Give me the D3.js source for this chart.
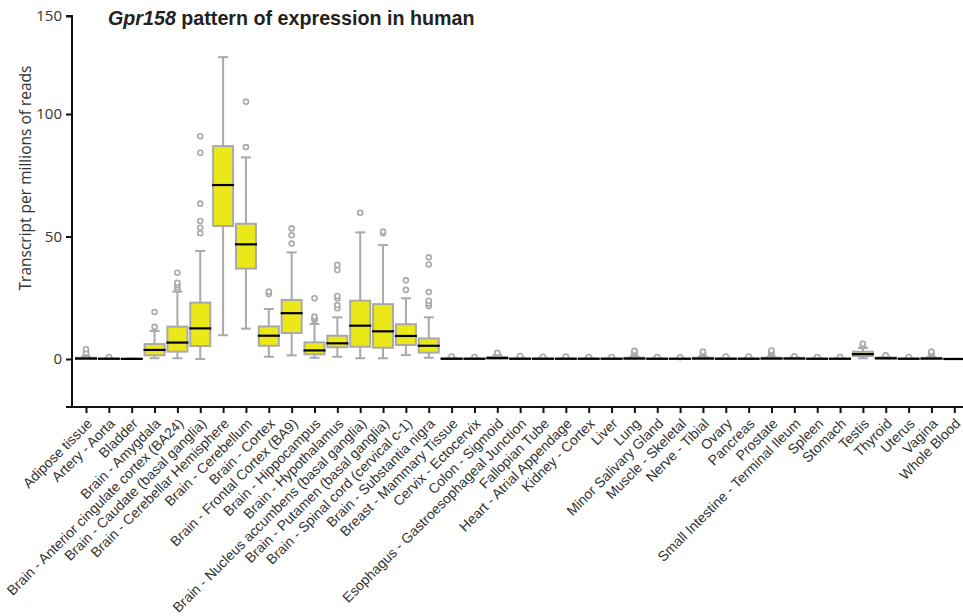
<!DOCTYPE html>
<html>
<head>
<meta charset="utf-8">
<script src="https://cdn.jsdelivr.net/npm/d3@7"></script>
<style>
  html, body { margin: 0; padding: 0; background: #fff; }
  svg { display: block; }
</style>
</head>
<body>
<svg id="chart" width="963" height="616"></svg>
<script>
// ---------- DATA ----------
const categories = [
  "Adipose tissue", "Artery - Aorta", "Bladder", "Brain - Amygdala",
  "Brain - Anterior cingulate cortex (BA24)", "Brain - Caudate (basal ganglia)",
  "Brain - Cerebellar Hemisphere", "Brain - Cerebellum", "Brain - Cortex",
  "Brain - Frontal Cortex (BA9)", "Brain - Hippocampus", "Brain - Hypothalamus",
  "Brain - Nucleus accumbens (basal ganglia)", "Brain - Putamen (basal ganglia)",
  "Brain - Spinal cord (cervical c-1)", "Brain - Substantia nigra",
  "Breast - Mammary Tissue", "Cervix - Ectocervix", "Colon - Sigmoid",
  "Esophagus - Gastroesophageal Junction", "Fallopian Tube",
  "Heart - Atrial Appendage", "Kidney - Cortex", "Liver", "Lung",
  "Minor Salivary Gland", "Muscle - Skeletal", "Nerve - Tibial", "Ovary",
  "Pancreas", "Prostate", "Small Intestine - Terminal Ileum", "Spleen",
  "Stomach", "Testis", "Thyroid", "Uterus", "Vagina", "Whole Blood"
];
const whiskerLow  = [0, 0, 0, 0.3, 0.3, 0, 9.7, 12.4, 0.9, 1.5, 0.5, 0.9, 0.3, 0.3, 1.6, 0.5, 0, 0, 0, 0, 0, 0, 0, 0, 0, 0, 0, 0, 0, 0, 0, 0, 0, 0, 0.3, 0, 0, 0, 0];
const q1          = [0, 0, 0, 1.5, 3.0, 5.3, 54.3, 36.9, 5.4, 10.6, 1.9, 4.8, 5.0, 4.6, 5.7, 2.6, 0, 0, 0.1, 0, 0, 0, 0, 0, 0, 0, 0, 0, 0, 0, 0, 0, 0, 0, 1.2, 0.1, 0, 0, 0];
const median      = [0.2, 0.1, 0.05, 3.7, 6.7, 12.5, 71.0, 46.8, 9.5, 18.7, 3.5, 6.4, 13.6, 11.3, 9.4, 5.4, 0.1, 0.1, 0.4, 0.1, 0.1, 0.1, 0.1, 0.1, 0.2, 0.1, 0.1, 0.2, 0.1, 0.1, 0.2, 0.2, 0.1, 0.1, 2.0, 0.3, 0.1, 0.2, 0];
const q3          = [0.5, 0.2, 0.1, 6.1, 13.2, 23.0, 86.9, 55.2, 13.3, 24.1, 6.8, 9.5, 23.8, 22.4, 14.2, 8.4, 0.3, 0.2, 0.8, 0.3, 0.2, 0.2, 0.2, 0.2, 0.5, 0.2, 0.2, 0.5, 0.3, 0.3, 0.5, 0.4, 0.2, 0.2, 3.0, 0.6, 0.2, 0.4, 0.05];
const whiskerHigh = [1, 0.4, 0.2, 11.4, 27.5, 44.1, 129.0, 82.3, 20.4, 43.5, 14.3, 17.0, 51.7, 46.5, 24.8, 17.0, 0.6, 0.4, 1.5, 0.6, 0.5, 0.5, 0.5, 0.5, 1, 0.5, 0.5, 1, 0.6, 0.6, 1, 0.7, 0.5, 0.5, 4.5, 1, 0.5, 0.8, 0.1];
const outliers = [
  [1.5, 2, 2.5, 4], [0.8], [], [13.1, 19.2],
  [28.5, 29.3, 30.2, 31.1, 35.2], [51.3, 53.6, 56.3, 63.4, 84.2, 90.9],
  [], [86.5, 106.3], [26.5, 27.5], [47.1, 50.5, 53.3],
  [15.9, 16.5, 17.3, 24.8], [20.7, 22, 24.8, 25.7, 36.3, 38.4],
  [59.7], [51.3, 52.0], [28.2, 32.1], [21.6, 22.7, 23.8, 27.3, 38.6, 41.5],
  [1], [0.8], [2, 2.5], [1.2], [0.9], [1], [0.8], [0.8],
  [1.5, 2, 2.5, 3, 3.3], [0.8], [0.7], [1.5, 2, 2.5, 3], [1], [1],
  [1.5, 2, 2.5, 3, 3.5], [1.1], [0.8], [0.8], [5.2, 5.8, 6.2], [1.5], [0.8],
  [1.3, 2, 2.5, 3], []
];
const yTicks = [0, 50, 100, 150];

// ---------- LAYOUT ----------
const svg = d3.select("#chart");
const axisX0 = 72, axisX1 = 963, axisYBottom = 407;

const y = d3.scaleLinear()
  .domain([-20, 0, 100, 150])
  .range([407, 359, 114, 16]);

const x = d3.scalePoint()
  .domain(categories)
  .range([86, 954.3]);

const boxW = 20, capW = 10;
const gray = "#a9a9a9", yellow = "#ebe81a";

// ---------- Y AXIS ----------
const yAxis = d3.axisLeft(y).tickValues(yTicks).tickSize(6).tickPadding(4).tickFormat(d3.format("d"));
const gy = svg.append("g").attr("transform", `translate(${axisX0},0)`).call(yAxis);
gy.select(".domain").attr("stroke", "#111").attr("stroke-width", 2)
  .attr("d", `M-6,${y(150)}H0V${axisYBottom}`);
gy.selectAll(".tick line").attr("stroke", "#111").attr("stroke-width", 2);
gy.selectAll(".tick text").attr("font-family", "'Open Sans', 'Noto Sans', sans-serif")
  .attr("font-size", 15).attr("fill", "#333");

svg.append("text")
  .attr("transform", `translate(31,178) rotate(-90)`)
  .attr("text-anchor", "middle")
  .attr("font-family", "'Open Sans', 'Noto Sans', sans-serif")
  .attr("font-size", 15.5).attr("fill", "#333")
  .text("Transcript per millions of reads");

// ---------- X AXIS ----------
const xAxis = d3.axisBottom(x).tickSize(6).tickPadding(4);
const gx = svg.append("g").attr("transform", `translate(0,${axisYBottom})`).call(xAxis);
gx.select(".domain").attr("stroke", "#111").attr("stroke-width", 2)
  .attr("d", `M${axisX0 - 6},0H${axisX1}`);
gx.selectAll(".tick line").attr("stroke", "#111").attr("stroke-width", 2);
gx.selectAll(".tick text")
  .attr("font-family", "'Liberation Sans', Arial, sans-serif")
  .attr("font-size", 14).attr("fill", "#333")
  .attr("text-anchor", "end")
  .attr("dy", "0.35em")
  .attr("transform", "translate(-4,7) rotate(-45)");

// ---------- BOXES ----------
const data = categories.map((c, i) => ({
  c, lo: whiskerLow[i], q1: q1[i], med: median[i], q3: q3[i], hi: whiskerHigh[i], out: outliers[i]
}));

const g = svg.append("g");
const box = g.selectAll("g.box").data(data).join("g").attr("class", "box")
  .attr("transform", d => `translate(${x(d.c)},0)`);

// whiskers
box.append("line").attr("x1", 0).attr("x2", 0)
  .attr("y1", d => y(d.q3)).attr("y2", d => y(d.hi))
  .attr("stroke", gray).attr("stroke-width", 2);
box.append("line").attr("x1", 0).attr("x2", 0)
  .attr("y1", d => y(d.q1)).attr("y2", d => y(d.lo))
  .attr("stroke", gray).attr("stroke-width", 2);
box.append("line").attr("x1", -capW / 2).attr("x2", capW / 2)
  .attr("y1", d => y(d.hi)).attr("y2", d => y(d.hi))
  .attr("stroke", gray).attr("stroke-width", 2);
box.append("line").attr("x1", -capW / 2).attr("x2", capW / 2)
  .attr("y1", d => y(d.lo)).attr("y2", d => y(d.lo))
  .attr("stroke", gray).attr("stroke-width", 2);

// outliers
box.selectAll("circle").data(d => d.out).join("circle")
  .attr("cx", 0).attr("cy", v => y(v)).attr("r", 2.5)
  .attr("fill", "#fff").attr("stroke", gray).attr("stroke-width", 1.6);

// box
box.append("rect")
  .attr("x", -boxW / 2).attr("width", boxW)
  .attr("y", d => y(d.q3)).attr("height", d => Math.max(0, y(d.q1) - y(d.q3)))
  .attr("fill", yellow).attr("stroke", gray).attr("stroke-width", 2);

// median
box.append("line").attr("x1", -boxW / 2 - 1).attr("x2", boxW / 2 + 1)
  .attr("y1", d => y(d.med)).attr("y2", d => y(d.med))
  .attr("stroke", "#000").attr("stroke-width", 2.2);

// ---------- TITLE ----------
const title = svg.append("text")
  .attr("x", 108).attr("y", 25)
  .attr("font-family", "'Liberation Sans', Arial, sans-serif")
  .attr("font-size", 19.7).attr("font-weight", "bold").attr("fill", "#222");
title.append("tspan").attr("font-style", "italic").text("Gpr158");
title.append("tspan").text(" pattern of expression in human");
</script>
</body>
</html>
